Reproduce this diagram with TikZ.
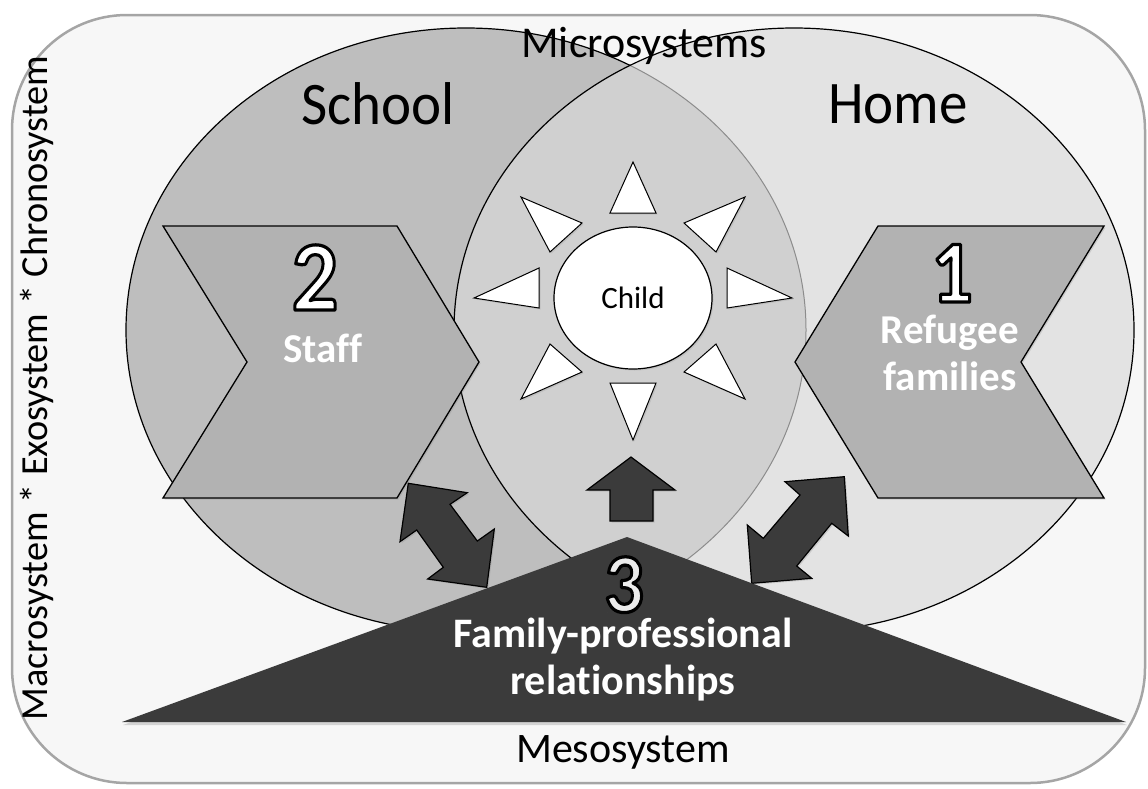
\documentclass[tikz,border=0pt]{standalone}
\usepackage{fontspec}
\setmainfont{Carlito}[Ligatures={NoCommon}]
\usetikzlibrary{shadows,shapes.geometric}
\definecolor{bgc}{HTML}{F7F7F7}
\definecolor{framec}{HTML}{A5A5A5}
\definecolor{leftc}{HTML}{BEBEBE}
\definecolor{lensc}{HTML}{D0D0D0}
\definecolor{rightc}{HTML}{E3E3E3}
\definecolor{chevc}{HTML}{B2B2B2}
\definecolor{darkc}{HTML}{3B3B3B}
\newcommand{\tallnum}[2]{\scalebox{1}[1.08]{\textcolor{#1}{\special{pdf:literal direct 0 0 0 RG 3 w 1 j 2 Tr}#2\special{pdf:literal direct 0 Tr}}}}
\tikzset{
  chev/.style={fill=chevc, draw=black, line width=1.3pt, line join=miter, drop shadow={opacity=0.25, shadow xshift=1.5pt, shadow yshift=-1.5pt}},
  ray/.style={fill=white, draw=black, line width=1pt, line join=miter, drop shadow={opacity=0.2, shadow xshift=1.5pt, shadow yshift=-1.5pt}},
  blockarrow/.style={fill=darkc, draw=black, line width=1.2pt, line join=miter, drop shadow={opacity=0.25, shadow xshift=1.5pt, shadow yshift=-1.5pt}},
  plain/.style={inner sep=0pt, text=black},
  whitebold/.style={inner sep=0pt, anchor=base, text=white, font=\bfseries\fontsize{41}{46}\selectfont},
  bignum/.style={inner sep=0pt, anchor=base, font=\bfseries\fontsize{92}{92}\selectfont}
}
\begin{document}
\begin{tikzpicture}[x=1pt, y=-1pt]
\useasboundingbox (0,0) rectangle (1148,788);
% outer frame
\draw[fill=bgc, draw=framec, line width=2.5pt, rounded corners=115pt] (12,15) rectangle (1145,783);
% microsystem circles
\path[fill=leftc, draw=black, line width=1.2pt] (466,330) ellipse [x radius=340pt, y radius=302pt];
\path[fill=rightc] (794,330) ellipse [x radius=340pt, y radius=302pt];
\begin{scope}
  \clip (794,330) ellipse [x radius=340pt, y radius=302pt];
  \path[fill=lensc, draw=black!45, line width=1pt] (466,330) ellipse [x radius=340pt, y radius=302pt];
\end{scope}
\path[draw=black, line width=1.2pt] (794,330) ellipse [x radius=340pt, y radius=302pt];
% labels of circles
\node[plain, font=\fontsize{44}{48}\selectfont] (micro) at (644,46) {Microsystems};
\node[plain, font=\fontsize{57}{60}\selectfont] (school) at (378,104) {\scalebox{1}[1.06]{School}};
\node[plain, font=\fontsize{57}{60}\selectfont] (home) at (898,104) {\scalebox{1}[1.06]{Home}};
% chevrons
\path[chev] (163,226) -- (397,226) -- (479,362) -- (397,498) -- (163,498) -- (247,362) -- cycle;
\path[chev] (878,226) -- (1104,226) -- (1021,362) -- (1104,498) -- (878,498) -- (795,362) -- cycle;
\node[bignum] (two) at (315,310) {\tallnum{white}{2}};
\node[whitebold] (staff) at (323,362) {Staff};
\node[bignum, font=\bfseries\fontsize{82}{82}\selectfont] (one) at (952,302) {\tallnum{white}{1}};
\node[whitebold] (refugee) at (950,343) {Refugee};
\node[whitebold] (families) at (950,390) {families};
% sun rays
\path[ray] (610,213) -- (656,213) -- (633,162) -- cycle;
\path[ray] (610,383) -- (656,383) -- (633,440) -- cycle;
\path[ray] (539,268) -- (539,308) -- (474,298) -- cycle;
\path[ray] (727,268) -- (727,308) -- (792,298) -- cycle;
\path[ray] (521,197) -- (582,223) -- (550,252) -- cycle;
\path[ray] (745,197) -- (684,223) -- (716,252) -- cycle;
\path[ray] (521,399) -- (582,372) -- (550,344) -- cycle;
\path[ray] (745,399) -- (684,372) -- (716,344) -- cycle;
% child
\node[ellipse, fill=white, draw=black, line width=1.2pt, minimum width=158pt, minimum height=142pt, inner sep=0pt, drop shadow={opacity=0.2, shadow xshift=1.5pt, shadow yshift=-1.5pt}, font=\fontsize{31}{34}\selectfont] (child) at (633,298) {Child};
% up arrow
\path[blockarrow] (631,457) -- (675,490) -- (653,490) -- (653,521) -- (610,521) -- (610,490) -- (587,490) -- cycle;
% double arrows
\path[blockarrow] (408.3,483.3) -- (467.3,492.7) -- (450,504.3) -- (477.3,541) -- (494.3,529) -- (486.7,587.3) -- (427.7,579) -- (443.3,567.3) -- (416.7,530) -- (400,541.7) -- cycle;
\path[blockarrow] (844.3,476.7) -- (848.3,536) -- (831.7,523.3) -- (796.7,566) -- (811.7,578.3) -- (751.7,583.3) -- (747.3,525) -- (763.3,538.3) -- (800,495) -- (785,481.7) -- cycle;
% mesosystem triangle
\path[fill=darkc, drop shadow={opacity=0.3, shadow xshift=1pt, shadow yshift=-3pt}] (627,537) -- (1126,722) -- (122,722) -- cycle;
\node[bignum, font=\bfseries\fontsize{78}{78}\selectfont] (three) at (624,612) {\tallnum{white!92!black}{3}};
\node[whitebold, font=\bfseries\fontsize{42}{48}\selectfont] (famprof) at (623,647) {Family-professional};
\node[whitebold, font=\bfseries\fontsize{42}{48}\selectfont] (relat) at (623,694) {relationships};
\node[plain, font=\fontsize{42}{46}\selectfont] (meso) at (623,752) {Mesosystem};
% vertical label
\node[plain, rotate=90, font=\fontsize{38.3}{42}\selectfont] (macro) at (37,388) {Macrosystem * Exosystem * Chronosystem};
\end{tikzpicture}
\end{document}
